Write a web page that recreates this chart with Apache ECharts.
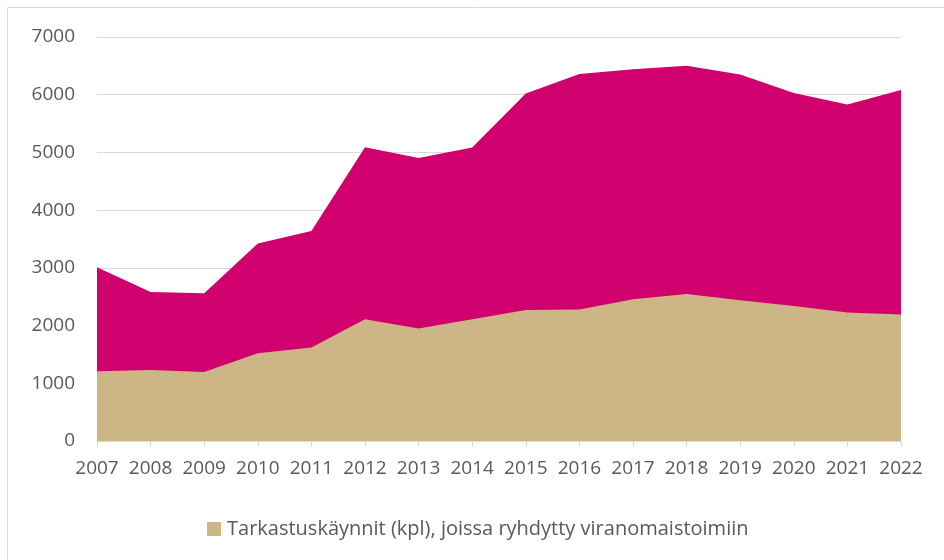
<!DOCTYPE html>
<html>
<head>
<meta charset="utf-8">
<script src="https://cdn.jsdelivr.net/npm/echarts@6/dist/echarts.min.js"></script>
<style>
  html, body { margin: 0; padding: 0; background: #fff; }
  #main { width: 944px; height: 560px; }
</style>
</head>
<body>
<div id="main"></div>
<script>
// vuodet
const years = ['2007','2008','2009','2010','2011','2012','2013','2014','2015','2016','2017','2018','2019','2020','2021','2022'];
// kaikki tarkastuskäynnit (taka-alue, ei legendassa)
const allVisits = [3010, 2580, 2560, 3420, 3640, 5090, 4905, 5085, 6020, 6360, 6440, 6500, 6350, 6030, 5830, 6080];
// käynnit, joissa ryhdytty viranomaistoimiin
const actionVisits = [1210, 1230, 1195, 1520, 1620, 2110, 1950, 2110, 2270, 2280, 2455, 2545, 2440, 2340, 2225, 2190];
const yTicks = [0, 1000, 2000, 3000, 4000, 5000, 6000, 7000];

const legendName = 'Tarkastuskäynnit (kpl), joissa ryhdytty viranomaistoimiin';
const fontFam = 'Open Sans';

let chart = echarts.init(document.getElementById('main'), null, {renderer: 'canvas'});
chart.setOption({
  backgroundColor: '#fff',
  animation: false,
  textStyle: { fontFamily: fontFam },
  graphic: [{
    type: 'rect',
    shape: { x: 7.5, y: 7.5, width: 1000, height: 700 },
    style: { fill: 'none', stroke: '#d9d9d9', lineWidth: 1 },
    z: -10
  }],
  grid: { left: 97, right: 43, top: 37, bottom: 119 },
  legend: {
    data: [legendName],
    left: 202,
    top: 514,
    icon: 'rect',
    itemWidth: 14,
    itemHeight: 14,
    itemGap: 10,
    textStyle: { fontFamily: fontFam, fontSize: 20, color: '#595959', padding: [0, 0, 0, 1] }
  },
  xAxis: {
    type: 'category',
    boundaryGap: false,
    data: years,
    axisLine: { show: true, lineStyle: { color: '#d9d9d9', width: 1 } },
    axisTick: { show: true, length: 6, interval: 0, lineStyle: { color: '#d9d9d9' } },
    axisLabel: { color: '#595959', fontSize: 19, margin: 18, interval: 0, fontFamily: fontFam }
  },
  yAxis: {
    type: 'value',
    min: yTicks[0],
    max: yTicks[yTicks.length - 1],
    interval: 1000,
    axisLine: { show: false },
    axisTick: { show: false },
    splitLine: { lineStyle: { color: '#d9d9d9', width: 1 } },
    axisLabel: {
      color: '#595959', fontSize: 19, margin: 22, fontFamily: fontFam,
      formatter: function (v) { return String(v); }
    }
  },
  series: [
    {
      name: 'Tarkastuskäynnit yhteensä',
      type: 'line',
      data: allVisits,
      symbol: 'none',
      lineStyle: { width: 0 },
      itemStyle: { color: '#d0006f' },
      areaStyle: { color: '#d0006f', opacity: 1 },
      z: 2
    },
    {
      name: legendName,
      type: 'line',
      data: actionVisits,
      symbol: 'none',
      lineStyle: { width: 0 },
      itemStyle: { color: '#cdb686' },
      areaStyle: { color: '#cdb686', opacity: 1 },
      z: 3
    }
  ]
});
</script>
</body>
</html>
